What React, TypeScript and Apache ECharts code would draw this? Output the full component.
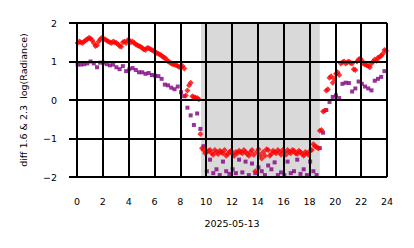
import React, { useEffect, useRef } from "react";
import * as echarts from "echarts";

// Hours (every 15 minutes) shared by both series
const hours: number[] = Array.from({ length: 96 }, (_, i) => +(0.05 + 0.25 * i).toFixed(3));
// Red series has extra samples between those (every 15 minutes, shifted by 7.5 min)
const halfHours: number[] = Array.from({ length: 96 }, (_, i) => +(0.175 + 0.25 * i).toFixed(3));

const redValues: number[] = [
  1.48, 1.5, 1.52, 1.58, 1.6, 1.48, 1.42, 1.58, 1.6, 1.55, 1.5, 1.52, 1.48, 1.4, 1.5, 1.48,
  1.55, 1.52, 1.45, 1.4, 1.35, 1.3, 1.35, 1.3, 1.25, 1.2, 1.15, 1.1, 1.0, 0.95, 0.92, 0.88,
  0.85, 0.82, 0.25, 0.45, 0.08, 0.05, -0.88, -1.3, -1.35, -1.3, -1.42, -1.35, -1.32, -1.38,
  -1.45, -1.35, -1.4, -1.35, -1.32, -1.38, -1.35, -1.45, -1.3, -1.85, -1.28, -1.52, -1.45,
  -1.3, -1.4, -1.35, -1.3, -1.42, -1.35, -1.3, -1.38, -1.32, -1.4, -1.35, -1.45, -1.38, -1.32,
  -1.15, -1.22, -0.8, -0.3, 0.25, 0.58, 0.45, 0.68, 0.65, 0.98, 0.95, 1.0, 0.95, 0.78, 1.05,
  1.02, 0.92, 0.88, 0.95, 1.05, 1.1, 1.15, 1.3,
];

const redHalfValues: number[] = [
  1.52, 1.48, 1.55, 1.62, 1.55, 1.4, 1.52, 1.62, 1.57, 1.52, 1.48, 1.5, 1.45, 1.38, 1.52, 1.55,
  1.5, 1.48, 1.42, 1.38, 1.32, 1.35, 1.32, 1.28, 1.22, 1.18, 1.12, 1.05, 0.98, 0.93, 0.9, 0.86,
  0.88, 0.12, 0.38, 0.1, 0.06, 0.02, -1.25, -1.38, -1.32, -1.38, -1.3, -1.4, -1.35, -1.3, -1.4,
  -1.32, -1.45, -1.38, -1.35, -1.3, -1.4, -1.35, -1.42, -1.35, -1.42, -1.35, -1.28, -1.45,
  -1.32, -1.38, -1.35, -1.3, -1.42, -1.35, -1.3, -1.38, -1.32, -1.4, -1.35, -1.42, -1.3, -1.2,
  -1.25, -0.78, -0.28, 0.28, 0.62, 0.55, 0.72, 0.95, 1.0, 0.98, 0.96, 0.8, 1.0, 1.08, 0.95, 0.9,
  0.85, 1.0, 1.02, 1.12, 1.2, 1.28,
];

const purpleValues: number[] = [
  0.92, 0.92, 0.93, 0.95, 1.0, 0.95, 0.85, 0.97, 0.97, 0.93, 0.9, 0.92, 0.85, 0.8, 0.88, 0.75,
  0.8, 0.83, 0.78, 0.72, 0.72, 0.68, 0.7, 0.65, 0.63, 0.62, 0.55, 0.4, 0.38, 0.32, 0.28, 0.35,
  0.2, 0.1, -0.2, -0.4, -0.65, -0.35, -0.75, -1.2, -1.85, -1.55, -1.9, -1.8, -1.95, -1.6,
  -1.85, -1.92, -1.8, -1.9, -1.55, -1.88, -1.6, -1.95, -1.65, -1.9, -1.75, -1.85, -1.95, -1.7,
  -1.8, -1.62, -1.95, -1.88, -1.95, -1.6, -1.9, -1.85, -1.55, -1.92, -1.8, -1.95, -1.6, -1.85,
  -1.95, -1.25, -0.85, -0.26, -0.05, 0.08, 0.12, 0.05, 0.42, 0.45, 0.44, 0.22, 0.3, 0.48, 0.42,
  0.35, 0.3, 0.25, 0.5, 0.55, 0.6, 0.75,
];

const nightStart = 9.6;
const nightEnd = 18.8;

const xTicks = { min: 0, max: 24, interval: 2 };
const yTicks = { min: -2, max: 2, interval: 1 };

const yTitle = "diff 1.6 & 2.3  log(Radiance)";
const xTitle = "2025-05-13";

const FONT = "DejaVu Sans";

export default function App() {
  const ref = useRef<HTMLDivElement>(null);
  useEffect(() => {
    if (!ref.current) return;
    const chart = echarts.init(ref.current, undefined, { renderer: "svg" });
    const red = [
      ...hours.map((h, i) => [h, redValues[i]]),
      ...halfHours.map((h, i) => [h, redHalfValues[i]]),
    ];
    const purple = hours.map((h, i) => [h, purpleValues[i]]);
    const axisCommon = {
      z: 10,
      axisLine: { show: false },
      axisTick: { show: true, inside: false, length: 8, lineStyle: { color: "#000", width: 2 } },
      splitLine: { show: true, showMinLine: true, showMaxLine: true, lineStyle: { color: "#000", width: 2 } },
    };
    chart.setOption({
      animation: false,
      grid: { left: 77, top: 23, width: 310, height: 154, containLabel: false },
      xAxis: {
        type: "value",
        ...xTicks,
        ...axisCommon,
        axisLabel: { fontFamily: FONT, fontSize: 9.5, color: "#000", margin: 19 },
      },
      yAxis: {
        type: "value",
        ...yTicks,
        ...axisCommon,
        axisLabel: {
          fontFamily: FONT,
          fontSize: 9.5,
          color: "#000",
          margin: 20,
          formatter: (v: number) => String(v).replace("-", "\u2212"),
        },
      },
      graphic: [
        {
          type: "text",
          x: 23,
          y: 100,
          rotation: Math.PI / 2,
          style: { text: yTitle, fontFamily: FONT, fontSize: 9.5, fill: "#000", align: "center", verticalAlign: "middle" },
        },
        {
          type: "text",
          x: 232,
          y: 223,
          style: { text: xTitle, fontFamily: FONT, fontSize: 9.5, fill: "#000", align: "center", verticalAlign: "middle" },
        },
      ],
      series: [
        {
          type: "scatter",
          data: purple,
          symbol: "rect",
          symbolSize: 4,
          itemStyle: { color: "#800080" },
          z: 2,
        },
        {
          type: "scatter",
          data: red,
          symbol: "diamond",
          symbolSize: 6,
          itemStyle: { color: "#ff0000" },
          z: 3,
        },
        {
          type: "scatter",
          data: [],
          z: 5,
          markArea: {
            silent: true,
            itemStyle: { color: "rgba(128,128,128,0.3)" },
            data: [[{ xAxis: nightStart }, { xAxis: nightEnd }]],
          },
        },
      ],
    });
    return () => chart.dispose();
  }, []);
  return (
    <div
      ref={ref}
      style={{ position: "fixed", left: 0, top: 0, width: 414, height: 248, background: "#fff" }}
    />
  );
}
